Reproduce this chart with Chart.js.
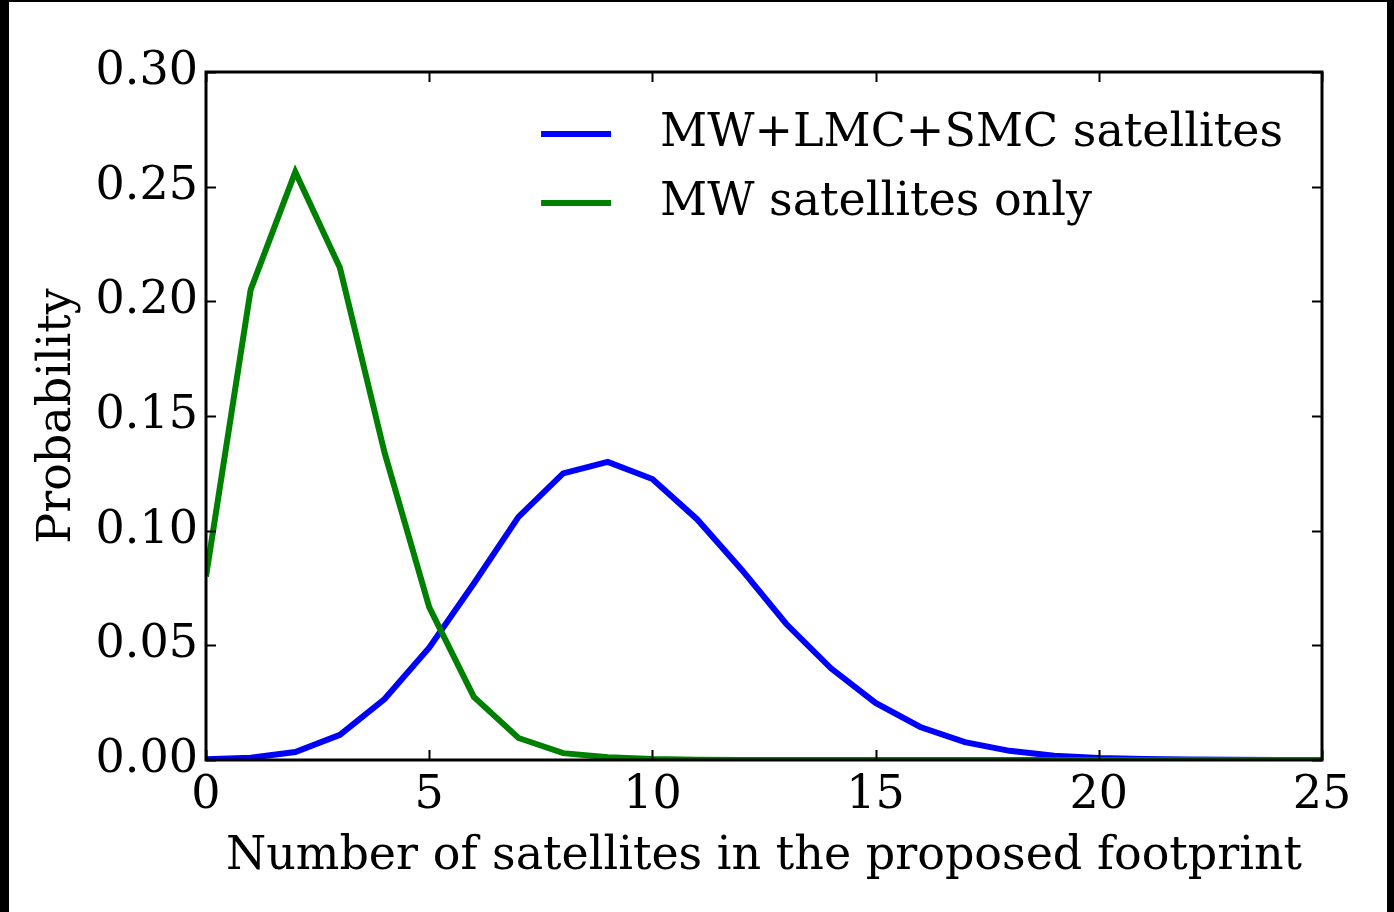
<!DOCTYPE html>
<html>
<head>
<meta charset="utf-8">
<script src="https://cdn.jsdelivr.net/npm/chart.js@4/dist/chart.umd.min.js"></script>
<style>
  html, body { margin: 0; padding: 0; background: #000; }
  #wrap { position: absolute; left: 9px; top: 2px; width: 1378px; height: 910px; background: #fff; }
</style>
</head>
<body>
<div id="wrap"><canvas id="myChart" width="1378" height="910"></canvas></div>
<script>
    const ctx = document.getElementById('myChart');

    var counts = [0, 1, 2, 3, 4, 5, 6, 7, 8, 9, 10, 11, 12, 13, 14, 15, 16, 17, 18, 19, 20, 21, 22, 23, 24, 25];
    var allSats = [0.0003, 0.001, 0.0035, 0.011, 0.0266, 0.049, 0.077, 0.106, 0.125, 0.130, 0.1225, 0.105,
                   0.083, 0.0593, 0.040, 0.0249, 0.0144, 0.0078, 0.004, 0.0019, 0.0009, 0.0004, 0.0002, 0.0001, 0.00005, 0.00002];
    var mwOnly = [0.080, 0.205, 0.2564, 0.2146, 0.134, 0.0667, 0.0275, 0.0096, 0.003, 0.0012, 0.0004, 0.0001,
                  0.00003, 0.00001, 0, 0, 0, 0, 0, 0, 0, 0, 0, 0, 0, 0];
    var seriesNames = ['MW+LMC+SMC satellites', 'MW satellites only'];
    var lineColors = ['#0000ff', '#008000'];
    var yTicks = [0, 0.05, 0.10, 0.15, 0.20, 0.25, 0.30];
    var xTicks = [0, 5, 10, 15, 20, 25];

    var serif = "'DejaVu Serif', serif";
    var fontSize = 46;
    var lineW = 6;

    function pairs(ys) {
        return counts.map(function (c, i) { return {x: c, y: ys[i]}; });
    }

    // frame with inward ticks on all four sides, plus the legend box
    var frameAndLegend = {
        id: 'frameAndLegend',
        afterDatasetsDraw: function (chart) {
            var c = chart.ctx, a = chart.chartArea;
            var xs = chart.scales.x, ys = chart.scales.y;
            c.save();
            c.strokeStyle = '#000';
            c.lineWidth = 2;
            c.beginPath();
            xTicks.forEach(function (v) {
                var px = Math.round(xs.getPixelForValue(v)) + 0.5;
                c.moveTo(px, a.bottom); c.lineTo(px, a.bottom - 10);
                c.moveTo(px, a.top); c.lineTo(px, a.top + 10);
            });
            yTicks.forEach(function (v) {
                var py = Math.round(ys.getPixelForValue(v)) + 0.5;
                c.moveTo(a.left, py); c.lineTo(a.left + 10, py);
                c.moveTo(a.right, py); c.lineTo(a.right - 10, py);
            });
            c.stroke();
            c.lineWidth = 3;
            c.strokeRect(a.left, a.top, a.right - a.left, a.bottom - a.top);

            // legend
            c.font = fontSize + 'px ' + serif;
            c.textBaseline = 'middle';
            c.textAlign = 'left';
            var maxW = 0;
            seriesNames.forEach(function (n) { maxW = Math.max(maxW, c.measureText(n).width); });
            var textX = a.right - 39 - maxW;
            seriesNames.forEach(function (n, i) {
                var y = a.top + 62 + i * 69;
                c.strokeStyle = lineColors[i];
                c.lineWidth = lineW;
                c.beginPath();
                c.moveTo(textX - 119, y);
                c.lineTo(textX - 49, y);
                c.stroke();
                c.fillStyle = '#000';
                c.fillText(n, textX, y);
            });
            c.restore();
        }
    };

    new Chart(ctx, {
        type: 'line',
        data: {
            datasets: [{
                label: seriesNames[0],
                data: pairs(allSats),
                borderColor: lineColors[0],
                backgroundColor: lineColors[0],
                borderWidth: lineW,
                pointRadius: 0,
                order: 1
            }, {
                label: seriesNames[1],
                data: pairs(mwOnly),
                borderColor: lineColors[1],
                backgroundColor: lineColors[1],
                borderWidth: lineW,
                pointRadius: 0,
                order: 0
            }]
        },
        options: {
            responsive: false,
            animation: false,
            layout: { padding: { left: 0, top: 70, right: 65, bottom: 0 } },
            plugins: {
                legend: { display: false },
                tooltip: { enabled: false }
            },
            scales: {
                x: {
                    type: 'linear',
                    min: 0,
                    max: 25,
                    afterBuildTicks: function (s) { s.ticks = xTicks.map(function (v) { return {value: v}; }); },
                    afterFit: function (s) { s.height = 152; },
                    grid: { display: false, drawTicks: false },
                    border: { display: false },
                    ticks: { color: '#000', padding: 8, maxRotation: 0, font: { family: serif, size: fontSize } },
                    title: {
                        display: true,
                        text: 'Number of satellites in the proposed footprint',
                        color: '#000',
                        padding: { bottom: 27 },
                        font: { family: serif, size: fontSize }
                    }
                },
                y: {
                    min: 0,
                    max: 0.30,
                    afterBuildTicks: function (s) { s.ticks = yTicks.map(function (v) { return {value: v}; }); },
                    afterFit: function (s) { s.width = 197; },
                    grid: { display: false, drawTicks: false },
                    border: { display: false },
                    ticks: {
                        color: '#000',
                        padding: 8,
                        font: { family: serif, size: fontSize },
                        callback: function (v) { return v.toFixed(2); }
                    },
                    title: {
                        display: true,
                        text: 'Probability',
                        color: '#000',
                        padding: { top: 21 },
                        font: { family: serif, size: fontSize }
                    }
                }
            }
        },
        plugins: [frameAndLegend]
    });
</script>
</body>
</html>
